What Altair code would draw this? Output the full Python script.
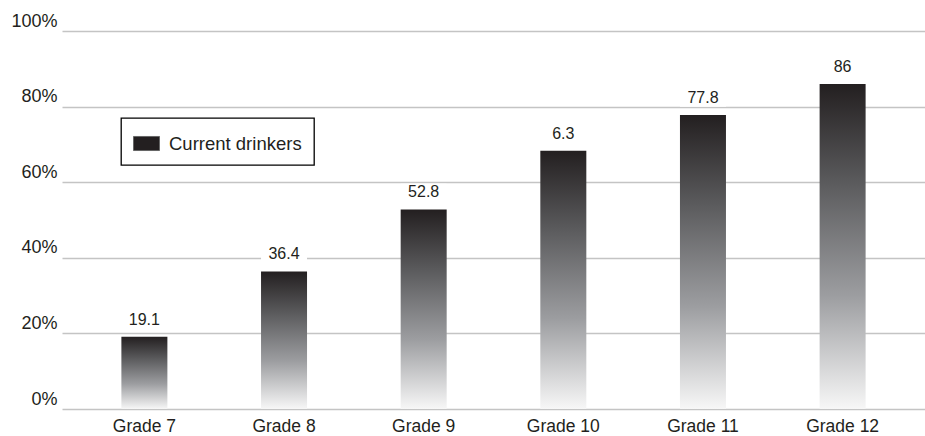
import altair as alt
import pandas as pd

# Share of students who currently drink, by school grade
grades = ["Grade 7", "Grade 8", "Grade 9", "Grade 10", "Grade 11", "Grade 12"]
values = [19.1, 36.4, 52.8, 68.3, 77.8, 86.0]
# Printed tab texts. The Grade 10 tab reads "6.3" as printed, while its bar
# stands near 68%, so the bar keeps its plotted height (68.3, an estimate)
# and the tab keeps the printed text.
value_labels = ["19.1", "36.4", "52.8", "6.3", "77.8", "86"]
series_name = "Current drinkers"

df = pd.DataFrame({
    "grade": grades,
    "value": values,
    "label": value_labels,
    "series": [series_name] * len(grades),
})

FONT = "Liberation Sans"
INK = "#231f20"

bar_fill = alt.Gradient(
    gradient="linear",
    x1=0, x2=0, y1=0, y2=1,
    stops=[
        alt.GradientStop(color="#231f20", offset=0),
        alt.GradientStop(color="#5a5a5c", offset=0.3),
        alt.GradientStop(color="#9c9da0", offset=0.65),
        alt.GradientStop(color="#f7f7f7", offset=1),
    ],
)

x_scale = alt.Scale(paddingInner=0, paddingOuter=0.09)

x_enc = alt.X(
    "grade:N",
    sort=grades,
    scale=x_scale,
    axis=alt.Axis(
        title=None, labelAngle=0, domain=False, ticks=False, grid=False,
        labelFont=FONT, labelFontSize=17.5, labelColor=INK, labelPadding=8,
    ),
)
y_enc = alt.Y(
    "value:Q",
    scale=alt.Scale(domain=[0, 100], nice=False),
    axis=alt.Axis(
        title=None, values=[0, 20, 40, 60, 80, 100],
        labelExpr="datum.value + '%'",
        domain=False, ticks=False, grid=True, gridColor="#c4c4c4", gridWidth=1.7,
        labelFont=FONT, labelFontSize=18, labelColor=INK, labelPadding=5,
        labelBaseline="alphabetic", labelOffset=-5,
    ),
)

base = alt.Chart(df)

bars = base.mark_bar(width=46, fill=bar_fill).encode(x=x_enc, y=y_enc)

x_plain = alt.X("grade:N", sort=grades, scale=x_scale)

# white tabs behind the value labels, breaking the gridlines
label_box = base.mark_point(
    shape="M-1,-0.38 L1,-0.38 L1,0.38 L-1,0.38 Z",
    size=2116, filled=True, fill="white", opacity=1, strokeWidth=0, yOffset=-17,
).encode(x=x_plain, y="value:Q")

label_text = base.mark_text(
    font=FONT, fontSize=16, color=INK, yOffset=-17, baseline="middle",
).encode(x=x_plain, y="value:Q", text="label:N")

legend_layer = base.mark_square(opacity=0).encode(
    x=x_plain,
    y="value:Q",
    color=alt.Color(
        "series:N",
        scale=alt.Scale(range=[INK]),
        legend=alt.Legend(
            title=None, orient="none", legendX=59, legendY=87,
            strokeColor="black", fillColor="white", padding=12,
            symbolType="M-1,-0.54 L1,-0.54 L1,0.54 L-1,0.54 Z",
            symbolSize=676, symbolOpacity=1, symbolStrokeColor="#666666",
            symbolStrokeWidth=1, symbolFillColor=INK,
            labelFont=FONT, labelFontSize=18.5, labelColor=INK, labelOffset=9,
            labelLimit=300,
        ),
    ),
)

chart = (
    alt.layer(bars, label_box, label_text, legend_layer)
    .properties(
        width=863, height=378,
        padding={"left": 62, "top": 31, "right": 0, "bottom": 27},
        autosize=alt.AutoSizeParams(type="none"),
        background="white",
    )
    .configure_view(stroke=None)
    .configure_legend(strokeWidth=1.3)
)

chart.save("out.html", embed_options={"renderer": "svg", "actions": False})
